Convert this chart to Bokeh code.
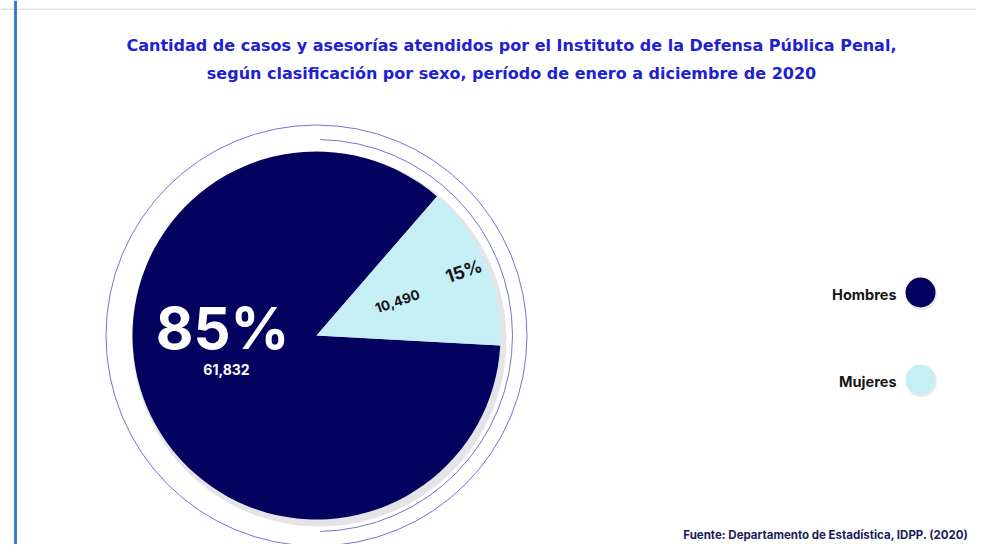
import math
from bokeh.plotting import figure
from bokeh.models import ColumnDataSource, Range1d
from bokeh.core.properties import value
from bokeh.embed import file_html
from bokeh.resources import INLINE

# ---- data ----
categories = ["Hombres", "Mujeres"]
counts = [61832, 10490]
pct_labels = ["85%", "15%"]
count_labels = ["61,832", "10,490"]
colors = ["#03035f", "#c6eef5"]
title_lines = [
    "Cantidad de casos y asesorías atendidos por el Instituto de la Defensa Pública Penal,",
    "según clasificación por sexo, período de enero a diciembre de 2020",
]
source_text = "Fuente: Departamento de Estadística, IDPP. (2020)"

W, H = 976, 544
p = figure(width=W, height=H, output_backend="svg", toolbar_location=None,
           x_range=Range1d(0, W), y_range=Range1d(0, H), min_border=0,
           x_axis_location=None, y_axis_location=None)
p.grid.visible = False
p.outline_line_color = None
p.background_fill_color = "white"

# frame decorations
p.quad(left=[0], right=[W], bottom=[H - 9.5], top=[H - 8], fill_color="#dde3ec", line_color=None)
p.quad(left=[13.5], right=[16.5], bottom=[0], top=[H], fill_color="#3b7bd0", line_color=None)

# pie geometry
cx, cy, R = 316, 209, 184
total = sum(counts)
share = [c / total for c in counts]
mid_m = math.radians(23)
span_m = share[1] * 2 * math.pi
start_m = mid_m - span_m / 2
end_m = mid_m + span_m / 2
starts = [end_m, start_m]
ends = [start_m + 2 * math.pi, end_m]

# rings
p.circle(x=[cx], y=[cy], radius=210.5, fill_color=None, line_color="#7474d4", line_width=1)
p.arc(x=[cx], y=[cy], radius=196, start_angle=-math.pi / 2 + 0.02, end_angle=math.pi / 2 - 0.02,
      line_color="#7474d4", line_width=1)
# shadow
p.circle(x=[cx + 3], y=[cy - 4], radius=R + 3, fill_color="#d8d8de", fill_alpha=0.7, line_color=None)

src = ColumnDataSource(dict(cat=categories, start=starts, end=ends, color=colors))
p.wedge(x=cx, y=cy, radius=R, start_angle="start", end_angle="end",
        fill_color="color", line_color=None, source=src)

# labels: Hombres
p.text(x=[cx - 94], y=[cy + 8], text=[pct_labels[0]], text_font=value("Inter"),
       text_font_style="bold", text_font_size="58px", text_color="white",
       text_align="center", text_baseline="middle")
p.text(x=[cx - 90], y=[cy - 34], text=[count_labels[0]], text_font=value("Inter"),
       text_font_style="bold", text_font_size="14px", text_color="white",
       text_align="center", text_baseline="middle")
# labels: Mujeres
rot = 0.33
p.text(x=[cx + 160 * math.cos(mid_m)], y=[cy + 160 * math.sin(mid_m) + 2], text=[pct_labels[1]],
       text_font=value("Inter"), text_font_style="bold", text_font_size="18px",
       text_color="#151515", text_align="center", text_baseline="middle", angle=rot)
p.text(x=[cx + 88 * math.cos(mid_m)], y=[cy + 88 * math.sin(mid_m)], text=[count_labels[1]],
       text_font=value("Inter"), text_font_style="bold", text_font_size="13.5px",
       text_color="#151515", text_align="center", text_baseline="middle", angle=rot)

# title
p.text(x=[511, 511], y=[499, 471], text=title_lines, text_font=value("DejaVu Sans"),
       text_font_style="bold", text_font_size="16px", text_color="#2020d4",
       text_align="center", text_baseline="middle")

# legend
leg_y = [252, 165]
p.circle(x=[921, 921], y=[y - 2 for y in leg_y], radius=15.5, fill_color="#d8d8e4",
         fill_alpha=0.6, line_color=None)
p.circle(x=[920, 920], y=leg_y, radius=15, fill_color=colors, line_color=None)
p.text(x=[896, 896], y=[y - 2 for y in leg_y], text=categories, text_font=value("Inter"),
       text_font_style="bold", text_font_size="14.5px", text_color="#151515",
       text_align="right", text_baseline="middle")

# source
p.text(x=[968], y=[10], text=[source_text], text_font=value("Inter"), text_font_style="bold",
       text_font_size="11.5px", text_color="#1c1c5a", text_align="right", text_baseline="middle")

open("out.html", "w").write(file_html(p, INLINE))
